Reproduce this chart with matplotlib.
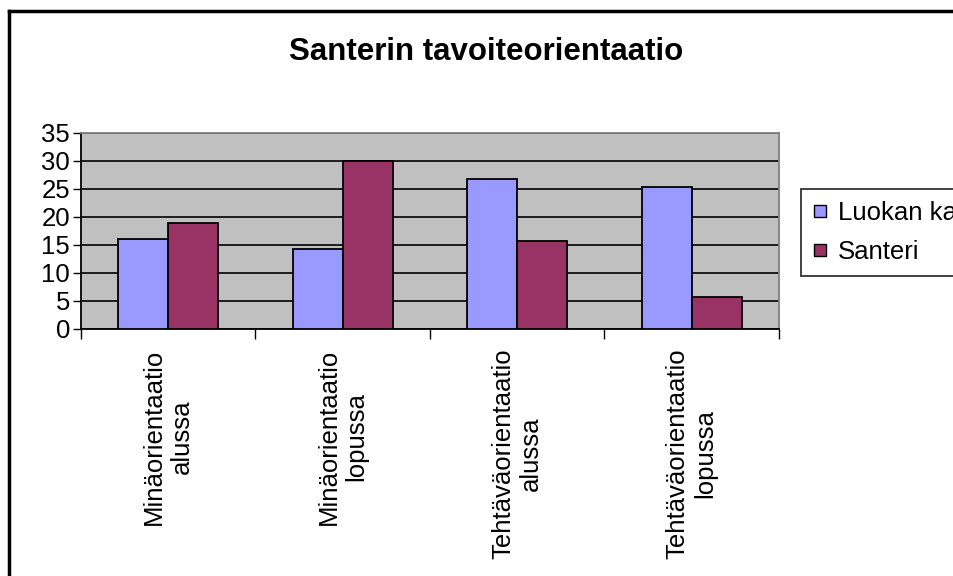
import numpy as np
import matplotlib.pyplot as plt
from matplotlib.lines import Line2D

plt.rcParams["font.family"] = ["Liberation Sans", "DejaVu Sans"]

categories = ["Minäorientaatio\nalussa", "Minäorientaatio\nlopussa",
              "Tehtäväorientaatio\nalussa", "Tehtäväorientaatio\nlopussa"]
luokan_ka = [16.1, 14.3, 26.8, 25.4]
santeri = [19.0, 30.0, 15.7, 5.7]
series_names = ["Luokan ka", "Santeri"]

W, H = 954, 576
fig = plt.figure(figsize=(W / 100, H / 100), dpi=100)
ax = fig.add_axes([81 / W, 1 - 329 / H, 698 / W, 196 / H])

x = np.arange(len(categories))
bw = 0.286
ax.set_facecolor("#C0C0C0")
ax.bar(x - bw / 2, luokan_ka, bw, color="#9999FF", edgecolor="black", linewidth=1.3,
       label=series_names[0], zorder=3)
ax.bar(x + bw / 2, santeri, bw, color="#993366", edgecolor="black", linewidth=1.3,
       label=series_names[1], zorder=3)

ax.set_xlim(-0.5, 3.5)
ax.set_ylim(0, 35)
ax.set_yticks(np.arange(0, 36, 5))
ax.yaxis.grid(True, color="black", linewidth=1.2, zorder=1)
ax.set_axisbelow(True)

# category boundaries get the tick marks, labels sit in between
ax.set_xticks(np.arange(-0.5, 4, 1))
ax.set_xticklabels([])
ax.set_xticks(x, categories, minor=True)
ax.tick_params(axis="x", which="major", direction="out", length=7, width=1)
ax.tick_params(axis="x", which="minor", length=0, pad=14)
for lbl in ax.get_xticklabels(minor=True):
    lbl.set_rotation(90)
    lbl.set_fontsize(18.5)
    lbl.set_ha("center")
    lbl.set_va("top")
    lbl.set_multialignment("center")

ax.tick_params(axis="y", direction="out", length=6, width=1, pad=2, labelsize=18.5)

for side in ["top", "right"]:
    ax.spines[side].set_color("#808080")
    ax.spines[side].set_linewidth(1.3)
for side in ["left", "bottom"]:
    ax.spines[side].set_color("black")
    ax.spines[side].set_linewidth(1.3)

fig.text(486 / W, 1 - 52 / H, "Santerin tavoiteorientaatio", ha="center", va="center",
         fontsize=22.5, fontweight="bold")

handles = [Line2D([], [], marker="s", linestyle="none", markersize=9,
                  markerfacecolor=c, markeredgecolor="black", markeredgewidth=1)
           for c in ["#9999FF", "#993366"]]
leg = fig.legend(handles, series_names, loc="upper left",
                 bbox_to_anchor=(801 / W, 1 - 189 / H), borderaxespad=0,
                 fontsize=18.5, frameon=True, fancybox=False, handlelength=0.6,
                 handletextpad=0.4, borderpad=0.45, labelspacing=0.6)
leg.get_frame().set_edgecolor("black")
leg.get_frame().set_linewidth(1.3)

# outer chart border (top and left edges)
fig.add_artist(Line2D([9 / W, 9 / W], [0, 1 - 11 / H], color="black", linewidth=2.5,
                      transform=fig.transFigure))
fig.add_artist(Line2D([9 / W, 1], [1 - 11 / H, 1 - 11 / H], color="black", linewidth=2.5,
                      transform=fig.transFigure))

fig.savefig("out.png", dpi=100)
